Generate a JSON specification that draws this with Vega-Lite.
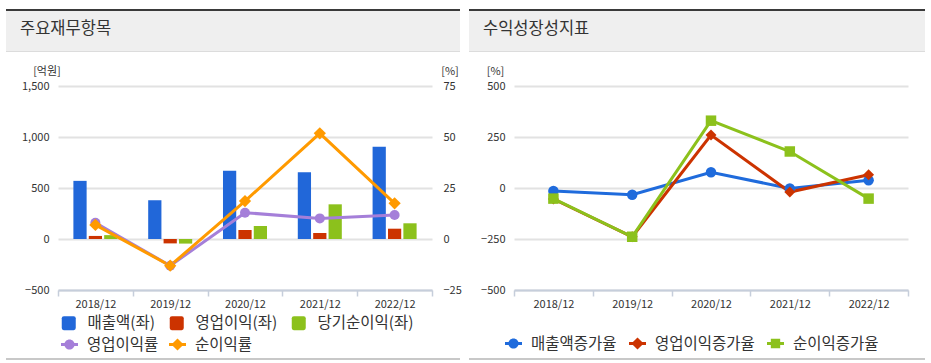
{
  "$schema": "https://vega.github.io/schema/vega-lite/v6.json",
  "padding": {"left": 6, "top": 9, "right": 0, "bottom": 0},
  "background": "white",
  "config": {
    "font": "Noto Sans CJK KR",
    "view": {"stroke": null},
    "axis": {"labelFont": "Noto Sans CJK KR", "titleFont": "Noto Sans CJK KR", "labelColor": "#333333", "titleColor": "#333333", "titleFontWeight": "normal", "labelFontSize": 11, "titleFontSize": 11},
    "legend": {"labelFont": "Noto Sans CJK KR", "labelFontSize": 15.5, "labelColor": "#333333"},
    "title": {"font": "Noto Sans CJK KR", "fontSize": 16.5, "fontWeight": "normal", "color": "#333333"}
  },
  "spacing": 13,
  "resolve": {"scale": {"color": "independent", "stroke": "independent", "shape": "independent", "fill": "independent"}, "legend": {"color": "independent", "stroke": "independent", "shape": "independent", "fill": "independent"}},
  "vconcat": [
    {
      "spacing": 0,
      "vconcat": [
        {"spacing": 9, "hconcat": [
          {"width": 454, "height": 2, "view": {"fill": "#3a3a3a", "stroke": null}, "data": {"values": []}, "mark": "point", "encoding": {}},
          {"width": 456, "height": 2, "view": {"fill": "#3a3a3a", "stroke": null}, "data": {"values": []}, "mark": "point", "encoding": {}}
        ]},
        {"spacing": 9, "hconcat": [
          {"width": 454, "height": 40, "view": {"fill": "#efefef", "stroke": null}, "data": {"values": []}, "mark": "point", "encoding": {},
           "title": {"text": "주요재무항목", "anchor": "start", "frame": "group", "orient": "top", "offset": -34, "baseline": "middle", "dx": 14}},
          {"width": 456, "height": 40, "view": {"fill": "#efefef", "stroke": null}, "data": {"values": []}, "mark": "point", "encoding": {},
           "title": {"text": "수익성장성지표", "anchor": "start", "frame": "group", "orient": "top", "offset": -34, "baseline": "middle", "dx": 14}}
        ]},
        {"spacing": 9, "hconcat": [
          {"width": 454, "height": 1, "view": {"fill": "#dcdcdc", "stroke": null}, "data": {"values": []}, "mark": "point", "encoding": {}},
          {"width": 456, "height": 1, "view": {"fill": "#dcdcdc", "stroke": null}, "data": {"values": []}, "mark": "point", "encoding": {}}
        ]}
      ]
    },
    {
      "spacing": 5,
      "resolve": {"scale": {"color": "independent", "stroke": "independent", "shape": "independent", "fill": "independent"}, "legend": {"color": "independent", "stroke": "independent", "shape": "independent", "fill": "independent"}},
      "vconcat": [
        {
          "spacing": 18,
          "resolve": {"scale": {"color": "independent", "stroke": "independent", "shape": "independent", "fill": "independent"}, "legend": {"color": "independent", "stroke": "independent", "shape": "independent", "fill": "independent"}},
          "hconcat": [
            {
              "spacing": 14,
              "resolve": {"scale": {"color": "independent", "stroke": "independent", "shape": "independent", "fill": "independent"}, "legend": {"color": "independent", "stroke": "independent", "shape": "independent", "fill": "independent"}},
              "hconcat": [
                {"width": 1, "height": 1, "data": {"values": []}, "mark": "point", "encoding": {}},
                {
                  "width": 374,
                  "height": 204,
                  "data": {"values": [
                    {"year": "2018/12", "k": "bar", "s": "매출액(좌)", "v": 570},
                    {"year": "2019/12", "k": "bar", "s": "매출액(좌)", "v": 380},
                    {"year": "2020/12", "k": "bar", "s": "매출액(좌)", "v": 670},
                    {"year": "2021/12", "k": "bar", "s": "매출액(좌)", "v": 655},
                    {"year": "2022/12", "k": "bar", "s": "매출액(좌)", "v": 905},
                    {"year": "2018/12", "k": "bar", "s": "영업이익(좌)", "v": 30},
                    {"year": "2019/12", "k": "bar", "s": "영업이익(좌)", "v": -43},
                    {"year": "2020/12", "k": "bar", "s": "영업이익(좌)", "v": 88},
                    {"year": "2021/12", "k": "bar", "s": "영업이익(좌)", "v": 59},
                    {"year": "2022/12", "k": "bar", "s": "영업이익(좌)", "v": 101},
                    {"year": "2018/12", "k": "bar", "s": "당기순이익(좌)", "v": 38},
                    {"year": "2019/12", "k": "bar", "s": "당기순이익(좌)", "v": -45},
                    {"year": "2020/12", "k": "bar", "s": "당기순이익(좌)", "v": 127},
                    {"year": "2021/12", "k": "bar", "s": "당기순이익(좌)", "v": 340},
                    {"year": "2022/12", "k": "bar", "s": "당기순이익(좌)", "v": 154},
                    {"year": "2018/12", "k": "rate", "s": "영업이익률", "v": 8.0},
                    {"year": "2019/12", "k": "rate", "s": "영업이익률", "v": -13.1},
                    {"year": "2020/12", "k": "rate", "s": "영업이익률", "v": 12.9},
                    {"year": "2021/12", "k": "rate", "s": "영업이익률", "v": 10.1},
                    {"year": "2022/12", "k": "rate", "s": "영업이익률", "v": 11.8},
                    {"year": "2018/12", "k": "rate", "s": "순이익률", "v": 6.9},
                    {"year": "2019/12", "k": "rate", "s": "순이익률", "v": -13.1},
                    {"year": "2020/12", "k": "rate", "s": "순이익률", "v": 18.6},
                    {"year": "2021/12", "k": "rate", "s": "순이익률", "v": 51.8},
                    {"year": "2022/12", "k": "rate", "s": "순이익률", "v": 17.5}
                  ]},
                  "encoding": {
                    "x": {"field": "year", "type": "ordinal", "scale": {"paddingInner": 0, "paddingOuter": 0},
                          "axis": {"title": null, "labelAngle": 0, "tickBand": "extent", "grid": false, "domainColor": "#c6cedb", "domainWidth": 2, "tickColor": "#c6cedb", "tickWidth": 1.5, "tickSize": 6, "labelPadding": 2, "labelFontSize": 11}}
                  },
                  "layer": [
                    {
                      "transform": [{"filter": "datum.k == 'bar'"}],
                      "mark": {"type": "bar"},
                      "encoding": {
                        "xOffset": {"field": "s", "type": "nominal", "scale": {"domain": ["매출액(좌)", "영업이익(좌)", "당기순이익(좌)"], "paddingInner": 0.14, "paddingOuter": 1.15}},
                        "y": {"field": "v", "type": "quantitative", "scale": {"domain": [-500, 1500], "nice": false},
                              "axis": {"orient": "left", "values": [-500, 0, 500, 1000, 1500], "labelExpr": "format(datum.value, ',')", "grid": true, "gridColor": "#e2e2e2", "gridWidth": 2, "domain": false, "ticks": false, "tickSize": 0, "labelPadding": 9, "title": "[억원]", "titleAngle": 0, "titleX": -11.5, "titleY": -15, "titleAlign": "center", "titleBaseline": "middle"}},
                        "fill": {"field": "s", "type": "nominal", "scale": {"domain": ["매출액(좌)", "영업이익(좌)", "당기순이익(좌)"], "range": ["#2167d9", "#cc3300", "#8cc11c"]},
                                 "legend": {"orient": "none", "legendX": 3, "legendY": 229, "direction": "horizontal", "title": null, "padding": 0, "symbolType": "M-0.7,-1H0.7Q1,-1,1,-0.7V0.7Q1,1,0.7,1H-0.7Q-1,1,-1,0.7V-0.7Q-1,-1,-0.7,-1Z", "symbolSize": 196, "symbolStrokeWidth": 0, "labelOffset": 11, "columnPadding": 13}}
                      }
                    },
                    {
                      "encoding": {
                        "y": {"field": "v", "type": "quantitative", "scale": {"domain": [-25, 75], "nice": false},
                              "axis": {"orient": "right", "values": [-25, 0, 25, 50, 75], "grid": false, "domain": false, "ticks": false, "tickSize": 0, "labelPadding": 11, "title": "[%]", "titleAngle": 0, "titleX": 17.5, "titleY": -15, "titleAlign": "center", "titleBaseline": "middle"}}
                      },
                      "layer": [
                        {
                          "transform": [{"filter": "datum.k == 'rate'"}],
                          "mark": {"type": "line", "strokeWidth": 3},
                          "encoding": {"stroke": {"field": "s", "type": "nominal", "scale": {"domain": ["순이익률", "영업이익률"], "range": ["#ff9a00", "#a57fd9"]}, "legend": null}}
                        },
                        {
                          "transform": [{"filter": "datum.s == '영업이익률'"}],
                          "mark": {"type": "point", "filled": true, "shape": "circle", "size": 100, "color": "#a57fd9", "opacity": 1}
                        },
                        {
                          "transform": [{"filter": "datum.s == '순이익률'"}],
                          "mark": {"type": "point", "filled": true, "shape": "diamond", "size": 150, "color": "#ff9a00", "opacity": 1}
                        },
                        {
                          "transform": [{"filter": "datum.k == 'rate'"}],
                          "mark": {"type": "point", "filled": true, "opacity": 0},
                          "encoding": {
                            "color": {"field": "s", "type": "nominal", "scale": {"domain": ["영업이익률", "순이익률"], "range": ["#a57fd9", "#ff9a00"]},
                                      "legend": {"orient": "none", "legendX": 3, "legendY": 250, "direction": "horizontal", "title": null, "padding": 0, "symbolSize": 289, "symbolStrokeWidth": 0, "labelOffset": 9, "columnPadding": 10,
                                                 "symbolType": "M-1,-0.18L1,-0.18L1,0.18L-1,0.18Z",
                                                 "encode": {"symbols": {"update": {"opacity": {"value": 1}, "fillOpacity": {"value": 1},
                                                   "shape": {"signal": "datum.value == '영업이익률' ? 'M-1,-0.18L1,-0.18L1,0.18L-1,0.18Z M0.6,0C0.6,0.331,0.331,0.6,0,0.6C-0.331,0.6,-0.6,0.331,-0.6,0C-0.6,-0.331,-0.331,-0.6,0,-0.6C0.331,-0.6,0.6,-0.331,0.6,0Z' : 'M-1,-0.18L1,-0.18L1,0.18L-1,0.18Z M0,-0.72L0.72,0L0,0.72L-0.72,0Z'"}}}}}}
                          }
                        }
                      ]
                    }
                  ],
                  "resolve": {"scale": {"y": "independent"}}
                }
              ]
            },
            {
              "width": 394,
              "height": 204,
              "data": {"values": [
                {"year": "2018/12", "s": "매출액증가율", "v": -15},
                {"year": "2019/12", "s": "매출액증가율", "v": -33},
                {"year": "2020/12", "s": "매출액증가율", "v": 77},
                {"year": "2021/12", "s": "매출액증가율", "v": -2},
                {"year": "2022/12", "s": "매출액증가율", "v": 38},
                {"year": "2018/12", "s": "영업이익증가율", "v": -54},
                {"year": "2019/12", "s": "영업이익증가율", "v": -239},
                {"year": "2020/12", "s": "영업이익증가율", "v": 260},
                {"year": "2021/12", "s": "영업이익증가율", "v": -20},
                {"year": "2022/12", "s": "영업이익증가율", "v": 65},
                {"year": "2018/12", "s": "순이익증가율", "v": -52},
                {"year": "2019/12", "s": "순이익증가율", "v": -239},
                {"year": "2020/12", "s": "순이익증가율", "v": 330},
                {"year": "2021/12", "s": "순이익증가율", "v": 179},
                {"year": "2022/12", "s": "순이익증가율", "v": -52}
              ]},
              "encoding": {
                "x": {"field": "year", "type": "ordinal", "scale": {"paddingInner": 0, "paddingOuter": 0},
                      "axis": {"title": null, "labelAngle": 0, "tickBand": "extent", "grid": false, "domainColor": "#c6cedb", "domainWidth": 2, "tickColor": "#c6cedb", "tickWidth": 1.5, "tickSize": 6, "labelPadding": 2, "labelFontSize": 11}},
                "y": {"field": "v", "type": "quantitative", "scale": {"domain": [-500, 500], "nice": false},
                      "axis": {"orient": "left", "values": [-500, -250, 0, 250, 500], "grid": true, "gridColor": "#e2e2e2", "gridWidth": 2, "domain": false, "ticks": false, "tickSize": 0, "labelPadding": 9, "title": "[%]", "titleAngle": 0, "titleX": -19, "titleY": -15, "titleAlign": "center", "titleBaseline": "middle"}}
              },
              "layer": [
                {
                  "mark": {"type": "line", "strokeWidth": 3},
                  "encoding": {"stroke": {"field": "s", "type": "nominal", "scale": {"domain": ["순이익증가율", "영업이익증가율", "매출액증가율"], "range": ["#8cc11c", "#cc3300", "#1f6bdc"]}, "legend": null}}
                },
                {
                  "transform": [{"filter": "datum.s == '매출액증가율'"}],
                  "mark": {"type": "point", "filled": true, "shape": "circle", "size": 110, "color": "#1f6bdc", "opacity": 1}
                },
                {
                  "transform": [{"filter": "datum.s == '영업이익증가율'"}],
                  "mark": {"type": "point", "filled": true, "shape": "diamond", "size": 120, "color": "#cc3300", "opacity": 1}
                },
                {
                  "transform": [{"filter": "datum.s == '순이익증가율'"}],
                  "mark": {"type": "point", "filled": true, "shape": "square", "size": 110, "color": "#8cc11c", "opacity": 1}
                },
                {
                  "mark": {"type": "point", "filled": true, "opacity": 0},
                  "encoding": {
                    "color": {"field": "s", "type": "nominal", "scale": {"domain": ["매출액증가율", "영업이익증가율", "순이익증가율"], "range": ["#1f6bdc", "#cc3300", "#8cc11c"]},
                              "legend": {"orient": "none", "legendX": -9, "legendY": 249, "direction": "horizontal", "title": null, "padding": 0, "symbolSize": 289, "symbolStrokeWidth": 0, "labelOffset": 9, "columnPadding": 12,
                                         "symbolType": "M-1,-0.18L1,-0.18L1,0.18L-1,0.18Z",
                                         "encode": {"symbols": {"update": {"opacity": {"value": 1}, "fillOpacity": {"value": 1},
                                           "shape": {"signal": "datum.value == '매출액증가율' ? 'M-1,-0.18L1,-0.18L1,0.18L-1,0.18Z M0.6,0C0.6,0.331,0.331,0.6,0,0.6C-0.331,0.6,-0.6,0.331,-0.6,0C-0.6,-0.331,-0.331,-0.6,0,-0.6C0.331,-0.6,0.6,-0.331,0.6,0Z' : datum.value == '영업이익증가율' ? 'M-1,-0.18L1,-0.18L1,0.18L-1,0.18Z M0,-0.72L0.72,0L0,0.72L-0.72,0Z' : 'M-1,-0.18L1,-0.18L1,0.18L-1,0.18Z M-0.55,-0.55L0.55,-0.55L0.55,0.55L-0.55,0.55Z'"}}}}}}
                  }
                }
              ]
            }
          ]
        },
        {"spacing": 9, "hconcat": [
          {"width": 454, "height": 2, "view": {"fill": "#c8c8c8", "stroke": null}, "data": {"values": []}, "mark": "point", "encoding": {}},
          {"width": 456, "height": 2, "view": {"fill": "#c8c8c8", "stroke": null}, "data": {"values": []}, "mark": "point", "encoding": {}}
        ]}
      ]
    }
  ]
}
